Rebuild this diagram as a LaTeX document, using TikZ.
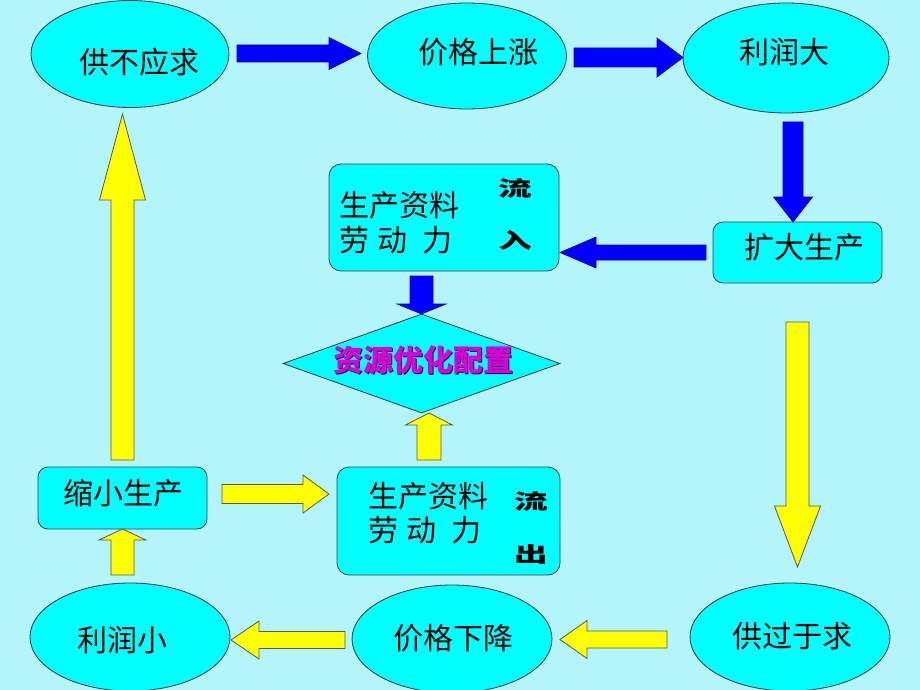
\documentclass[tikz,border=0pt]{standalone}
\usepackage{fontspec}
\setmainfont{Noto Sans CJK SC}
\usetikzlibrary{shapes.geometric}
\definecolor{bgcyan}{RGB}{180,245,252}
\definecolor{nodecyan}{RGB}{0,255,255}
\definecolor{arrblue}{RGB}{0,0,255}
\definecolor{arryellow}{RGB}{255,255,0}
\definecolor{magtext}{RGB}{220,0,220}
\definecolor{magshadow}{RGB}{70,0,70}
% horizontal block arrow: style, tail x, tip x, y, shaft half, head half, head length
\newcommand\hArr[7]{\draw[#1] (#2,{#4-#5}) -- ({#3-(#7)*sign(#3-#2)},{#4-#5}) -- ({#3-(#7)*sign(#3-#2)},{#4-#6}) -- (#3,#4) -- ({#3-(#7)*sign(#3-#2)},{#4+#6}) -- ({#3-(#7)*sign(#3-#2)},{#4+#5}) -- (#2,{#4+#5}) -- cycle;}
% vertical block arrow: style, tail y, tip y, x, shaft half, head half, head length
\newcommand\vArr[7]{\draw[#1] ({#4-#5},#2) -- ({#4-#5},{#3-(#7)*sign(#3-#2)}) -- ({#4-#6},{#3-(#7)*sign(#3-#2)}) -- (#4,#3) -- ({#4+#6},{#3-(#7)*sign(#3-#2)}) -- ({#4+#5},{#3-(#7)*sign(#3-#2)}) -- ({#4+#5},#2) -- cycle;}
\begin{document}
\begin{tikzpicture}[x=1pt,y=-1pt,
  ell/.style={ellipse, draw=black!80, line width=0.8pt, fill=nodecyan, inner sep=0pt},
  rbox/.style={rectangle, rounded corners=12pt, draw=black!75, line width=0.8pt, fill=nodecyan, inner sep=0pt},
  dia/.style={diamond, draw=black!80, line width=0.8pt, fill=nodecyan, inner sep=0pt},
  lbl/.style={font=\fontsize{30}{32}\selectfont, inner sep=0pt},
  flow/.style={font=\fontsize{21}{23}\selectfont\bfseries, inner sep=0pt},
  blarr/.style={fill=arrblue, draw=arrblue!70!black, line width=0.6pt},
  yarr/.style={fill=arryellow, draw=black!65, line width=0.8pt}]
\fill[bgcyan] (0,0) rectangle (920,690);
\useasboundingbox (0,0) rectangle (920,690);

% ellipses
\node[ell, minimum width=198pt, minimum height=107pt] (gbyq) at (130,54) {};
\node[ell, minimum width=199pt, minimum height=106pt] (jgsz) at (467,56) {};
\node[ell, minimum width=206pt, minimum height=110pt] (lrd) at (786,58) {};
\node[ell, minimum width=200pt, minimum height=108pt] (lrx) at (130,637) {};
\node[ell, minimum width=200pt, minimum height=108pt] (jgxj) at (452,639) {};
\node[ell, minimum width=200pt, minimum height=108pt] (ggyq) at (790,637) {};

% boxes
\node[rbox, minimum width=230pt, minimum height=107pt] (inbox) at (444,217.5) {};
\node[rbox, rounded corners=10pt, minimum width=169pt, minimum height=61pt] (kdsc) at (797.5,252.5) {};
\node[rbox, rounded corners=10pt, minimum width=169pt, minimum height=62pt] (sxsc) at (122.5,498) {};
\node[rbox, minimum width=223pt, minimum height=108pt] (outbox) at (448.5,521) {};
\node[dia, minimum width=277pt, minimum height=99pt] (pz) at (421.5,363.5) {};

% labels
\node[lbl] (t1) at (139.5,62) {供不应求};
\node[lbl] (t2) at (478,52) {价格上涨};
\node[lbl] (t3) at (784,52) {利润大};
\node[lbl] (t4) at (804.5,247) {扩大生产};
\node[lbl] (t5) at (123,493) {缩小生产};
\node[lbl] (t6) at (122,640) {利润小};
\node[lbl] (t7) at (453,638) {价格下降};
\node[lbl] (t8) at (792.5,636) {供过于求};
\node[lbl, anchor=west] (t9) at (339,205) {生产资料};
\node[lbl, anchor=west] (t10) at (339,240) {劳\hspace{8pt}动\hspace{15pt}力};
\node[lbl, anchor=west] (t11) at (368,496) {生产资料};
\node[lbl, anchor=west] (t12) at (368,530) {劳\hspace{8pt}动\hspace{15pt}力};
\node[flow] (f1) at (515,188) {\scalebox{1.6}[1]{流}};
\node[flow] (f2) at (515,240) {\scalebox{1.6}[1]{入}};
\node[flow] (f3) at (531,501) {\scalebox{1.6}[1]{流}};
\node[flow] (f4) at (531,555) {\scalebox{1.6}[1]{出}};
\node[font=\fontsize{30}{32}\selectfont\bfseries, text=magshadow, inner sep=0pt] (pzs) at (424.5,361.5) {资源优化配置};
\node[font=\fontsize{30}{32}\selectfont\bfseries, text=magtext, inner sep=0pt] (pzt) at (423,360) {资源优化配置};

% blue arrows
\hArr{blarr}{237}{361}{53.5}{8.5}{16}{32}
\hArr{blarr}{574}{683}{57.5}{9.5}{19.5}{26}
\vArr{blarr}{122}{222}{793}{10}{19.5}{25}
\hArr{blarr}{706}{560}{252.5}{7.5}{15.5}{36}
\vArr{blarr}{276}{314}{421.5}{11.5}{24.5}{10}

% yellow arrows
\vArr{yarr}{460}{114}{122.5}{11.5}{23}{86}
\vArr{yarr}{460}{413}{429}{12}{23.5}{12}
\hArr{yarr}{222}{329}{494}{9.5}{19}{26}
\vArr{yarr}{575}{529}{122.5}{11.5}{23.5}{11}
\vArr{yarr}{322}{567}{797.5}{11.5}{23}{61}
\hArr{yarr}{667}{560}{639.5}{8.5}{19}{27}
\hArr{yarr}{345}{231}{640}{8.5}{19}{28}
\end{tikzpicture}
\end{document}
